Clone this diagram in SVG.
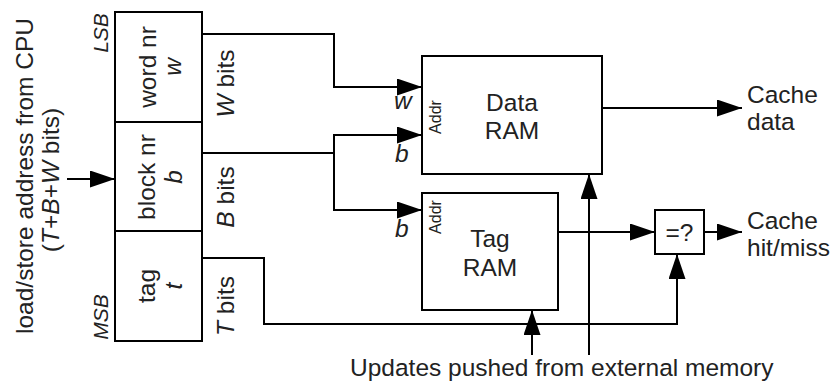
<svg xmlns="http://www.w3.org/2000/svg" width="832" height="383" viewBox="0 0 832 383">
<style>
text{font-family:"Liberation Sans",Arial,sans-serif;font-size:24.5px;fill:#222;}
.m{text-anchor:middle;}
.i{font-style:italic;}
.s{font-size:16px;}
.lsb{font-size:21px;font-style:italic;}
.box{fill:#fff;stroke:#000;stroke-width:2;}
.ln{fill:none;stroke:#000;stroke-width:2;}
</style>
<defs>
<marker id="ah" markerUnits="userSpaceOnUse" markerWidth="25" markerHeight="17" refX="25" refY="8.5" orient="auto">
<path d="M0,0 L25,8.5 L0,17 z" fill="#000"/>
</marker>
</defs>
<g id="connectors">
<path class="ln" d="M67,179 H115" marker-end="url(#ah)"/>
<path class="ln" d="M202,34 H334 V87 H422" marker-end="url(#ah)"/>
<path class="ln" d="M202,153 H334"/>
<path class="ln" d="M334,153 V135 H422" marker-end="url(#ah)"/>
<path class="ln" d="M334,153 V210 H422" marker-end="url(#ah)"/>
<path class="ln" d="M202,258 H264 V324 H677 V254" marker-end="url(#ah)"/>
<path class="ln" d="M558,232 H655" marker-end="url(#ah)"/>
<path class="ln" d="M602,108 H742" marker-end="url(#ah)"/>
<path class="ln" d="M704,232 H742" marker-end="url(#ah)"/>
<path class="ln" d="M589,355 V174" marker-end="url(#ah)"/>
<path class="ln" d="M532,355 V310" marker-end="url(#ah)"/>
</g>
<g id="addr-label">
<text class="m" transform="translate(33,176) rotate(-90)">load/store address from CPU</text>
<text class="m" transform="translate(59,180) rotate(-90)">(<tspan class="i">T</tspan>+<tspan class="i">B</tspan>+<tspan class="i">W</tspan> bits)</text>
<text class="m lsb" transform="translate(108,33) rotate(-90)">LSB</text>
<text class="m lsb" transform="translate(108,317) rotate(-90)">MSB</text>
</g>
<g id="word">
<rect class="box" x="115" y="12" width="87" height="110"/>
<text class="m" transform="translate(156,67) rotate(-90)">word nr</text>
<text class="m i" transform="translate(181,67) rotate(-90)">w</text>
</g>
<g id="block">
<rect class="box" x="115" y="122" width="87" height="109"/>
<text class="m" transform="translate(155,177) rotate(-90)">block nr</text>
<text class="m i" transform="translate(182,177) rotate(-90)">b</text>
</g>
<g id="tag">
<rect class="box" x="115" y="231" width="87" height="110"/>
<text class="m" transform="translate(155,286) rotate(-90)">tag</text>
<text class="m i" transform="translate(182,286) rotate(-90)">t</text>
</g>
<g id="bits-labels">
<text class="m" transform="translate(234,83.5) rotate(-90)"><tspan class="i">W</tspan> bits</text>
<text class="m" transform="translate(234,197) rotate(-90)"><tspan class="i">B</tspan> bits</text>
<text class="m" transform="translate(234,306) rotate(-90)"><tspan class="i">T</tspan> bits</text>
<text class="i" x="394" y="109">w</text>
<text class="i" x="395" y="162">b</text>
<text class="i" x="395" y="237">b</text>
</g>
<g id="data-ram">
<rect class="box" x="422" y="56" width="180" height="118"/>
<text class="m s" transform="translate(441,117) rotate(-90)">Addr</text>
<text class="m" x="512" y="111">Data</text>
<text class="m" x="512" y="139">RAM</text>
</g>
<g id="tag-ram">
<rect class="box" x="422" y="193" width="136" height="117"/>
<text class="m s" transform="translate(441,217) rotate(-90)">Addr</text>
<text class="m" x="490" y="247">Tag</text>
<text class="m" x="490" y="276">RAM</text>
</g>
<g id="compare">
<rect class="box" x="655" y="210" width="49" height="44"/>
<text class="m" x="679.5" y="241">=?</text>
</g>
<g id="outputs">
<text x="747" y="103">Cache</text>
<text x="747" y="130">data</text>
<text x="747" y="229">Cache</text>
<text x="747" y="256">hit/miss</text>
</g>
<g id="updates">
<text x="350" y="376">Updates pushed from external memory</text>
</g>
</svg>
